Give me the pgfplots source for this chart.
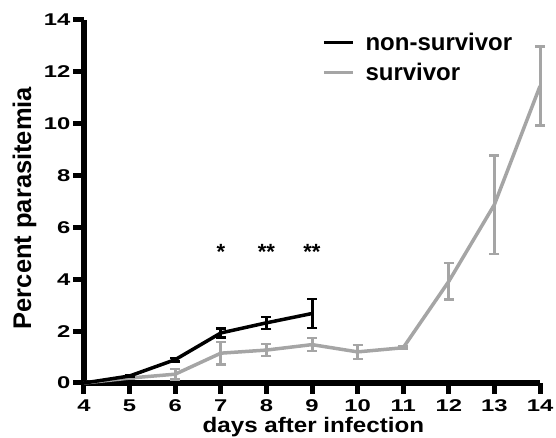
\documentclass[border=0pt]{standalone}
\usepackage{fontspec}
\setmainfont{Liberation Sans}
\newfontfamily\tickfont{Liberation Sans}[FakeStretch=1.4, BoldFeatures={FakeStretch=1.4}]
\newfontfamily\xlabfont{Liberation Sans}[FakeStretch=1.15, BoldFeatures={FakeStretch=1.15}]
\usepackage{pgfplots}
\pgfplotsset{compat=1.18}
\usepackage{pgfplotstable}
\definecolor{sgray}{RGB}{165,165,165}

\pgfplotstableread{
x y e
4 0 0
5 0.27 0.04
6 0.90 0.07
7 1.93 0.18
8 2.32 0.23
9 2.68 0.55
}\nonsurv

\pgfplotstableread{
x y e
4 0 0
5 0.19 0.04
6 0.34 0.20
7 1.15 0.43
8 1.27 0.23
9 1.48 0.25
10 1.20 0.27
11 1.36 0.05
12 3.92 0.70
13 6.88 1.90
14 11.45 1.52
}\surv

\begin{document}
\begin{tikzpicture}
\begin{axis}[
  scale only axis,
  width=456pt, height=363pt,
  xmin=4, xmax=14, ymin=0, ymax=14,
  xtick={4,...,14}, ytick={0,2,...,14},
  axis lines=left,
  axis line style={-, line width=5.5pt},
  every outer x axis line/.append style={line width=5.5pt},
  every outer y axis line/.append style={line width=5.5pt},
  tick align=outside,
  major tick length=11pt,
  tick style={line width=5pt, black},
  /pgf/number format/assume math mode=true,
  ticklabel style={font=\tickfont\bfseries\fontsize{17}{17}\selectfont},
  xticklabel style={yshift=-2.5pt},
  yticklabel style={xshift=1pt},
  xlabel={\xlabfont\bfseries\fontsize{21}{21}\selectfont days after infection},
  ylabel={\bfseries\fontsize{25.5}{25.5}\selectfont Percent parasitemia},
  xlabel style={at={(axis description cs:0.503,-0.1377)}, anchor=base},
  ylabel style={at={(axis description cs:-0.1162,0.482)}, anchor=base},
  legend style={at={(rel axis cs:0.515,0.975)}, anchor=north west, draw=none, fill=none,
    font=\bfseries\fontsize{24}{24}\selectfont, row sep=7pt},
  legend cell align=left,
  legend image code/.code={\draw[#1] (0pt,0pt) -- (29pt,0pt);},
  every even column/.append style={column sep=0pt},
  clip=false,
]
\addlegendimage{black, line width=3.5pt}
\addlegendentry{\hspace{9pt}non-survivor}
\addlegendimage{sgray, line width=3.5pt}
\addlegendentry{\hspace{9pt}survivor}

\addplot[sgray, line width=3.5pt, mark=none, forget plot,
  error bars/.cd, y dir=both, y explicit,
  error bar style={line width=3pt, sgray},
  error mark options={rotate=90, mark size=5pt, line width=2.5pt, sgray}]
  table[x=x, y=y, y error=e] {\surv};
\addplot[black, line width=3.5pt, mark=none, forget plot,
  error bars/.cd, y dir=both, y explicit,
  error bar style={line width=3pt, black},
  error mark options={rotate=90, mark size=5pt, line width=2.5pt, black}]
  table[x=x, y=y, y error=e] {\nonsurv};

\node[font=\bfseries\fontsize{22}{22}\selectfont] at (axis cs:7,5.05) {*};
\node[font=\bfseries\fontsize{22}{22}\selectfont] at (axis cs:8,5.05) {**};
\node[font=\bfseries\fontsize{22}{22}\selectfont] at (axis cs:9,5.05) {**};
\end{axis}
\pgfresetboundingbox
\path (-84pt,-55pt) rectangle (472pt,383pt);
\end{tikzpicture}
\end{document}
